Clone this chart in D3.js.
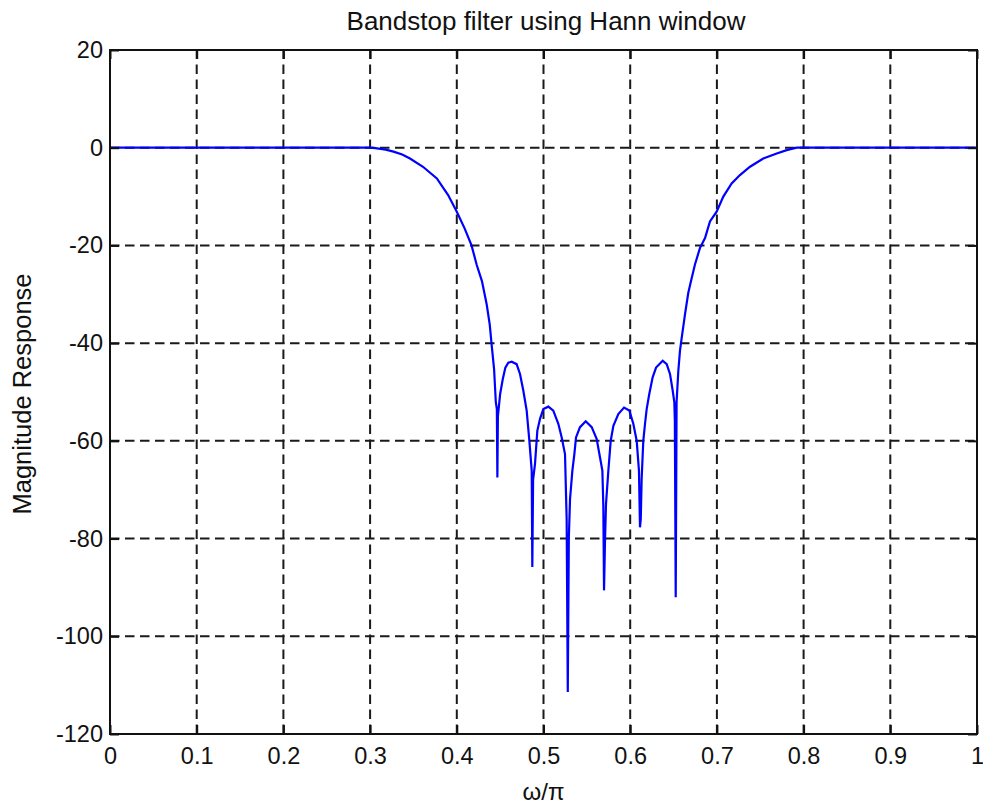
<!DOCTYPE html>
<html>
<head>
<meta charset="utf-8">
<script src="https://cdn.jsdelivr.net/npm/d3@7"></script>
<style>
  html, body { margin: 0; padding: 0; background: #fff; }
  svg { display: block; font-family: "Liberation Sans", Arial, Helvetica, sans-serif; }
</style>
</head>
<body>
<svg id="chart" width="983" height="807"></svg>
<script>
// Normalised frequency (omega / pi) of each sample of the response
const freq = [
  0, 0.1, 0.2, 0.3, 0.306, 0.318, 0.327, 0.337, 0.346, 0.361, 0.377, 0.390,
  0.400, 0.409, 0.417, 0.423, 0.429, 0.4345, 0.438, 0.440, 0.443, 0.445,
  0.4462, 0.4468, 0.4474, 0.450, 0.453, 0.456, 0.4594, 0.4633, 0.469, 0.4729,
  0.4767, 0.4806, 0.4837, 0.4864, 0.4871, 0.4880, 0.4902, 0.4929, 0.496, 0.4998,
  0.5056, 0.5113, 0.5171, 0.521, 0.5248, 0.5267, 0.5280, 0.5292, 0.5306, 0.5333,
  0.5356, 0.5375, 0.5421, 0.5487, 0.5556, 0.5613, 0.5652, 0.5679, 0.569, 0.5698,
  0.5710, 0.5721, 0.5748, 0.5775, 0.5806, 0.5863, 0.5929, 0.599, 0.6036, 0.6075,
  0.6101, 0.6113, 0.6122, 0.6132, 0.6151, 0.6171, 0.619, 0.622, 0.6259, 0.6298,
  0.6375, 0.6421, 0.6459, 0.649, 0.6509, 0.6515, 0.6525, 0.6535, 0.6555, 0.6574,
  0.6594, 0.6632, 0.667, 0.6709, 0.6747, 0.6805, 0.6863, 0.692, 0.6997, 0.7074,
  0.717, 0.7266, 0.7382, 0.7535, 0.769, 0.7805, 0.792, 0.8, 0.9, 1.0
];

// Magnitude response in dB at each frequency above
const magnitude = [
  0, 0, 0, 0, -0.1, -0.4, -0.8, -1.4, -2.2, -3.9, -6.3, -9.7,
  -13.1, -16.5, -20, -24, -27.3, -32.1, -36.2, -40, -45.3, -52.1,
  -53.5, -67.5, -55, -50.4, -47.4, -45.0, -44.0, -43.8, -44.3, -46.3,
  -49.7, -53.8, -60, -66.1, -85.8, -68, -64.7, -57.9, -55.5, -53.5,
  -53.0, -53.8, -56.5, -59.3, -62.7, -76.0, -111.4, -80, -71.9, -66.1,
  -62.7, -59.3, -57.2, -56.0, -57.2, -59.6, -63.4, -66.1, -73.2, -90.6,
  -80, -72.9, -66.1, -60, -56.9, -54.5, -53.2, -53.8, -56.5, -60,
  -66.1, -77.7, -76, -67.8, -60, -56.5, -53.5, -50.4, -47.0, -45.0,
  -43.6, -44.3, -46.3, -49.7, -52.1, -56, -92.0, -52.1, -45.7, -41.6,
  -38.9, -34.1, -29.7, -26.7, -23.9, -20.5, -18.5, -15.1, -13.1, -10.0,
  -7.3, -5.6, -3.9, -2.2, -1.2, -0.5, 0, 0, 0, 0
];

// Tick values and their labels for both axes
const xTicks = [0, 0.1, 0.2, 0.3, 0.4, 0.5, 0.6, 0.7, 0.8, 0.9, 1];
const xTickLabels = ["0", "0.1", "0.2", "0.3", "0.4", "0.5", "0.6", "0.7", "0.8", "0.9", "1"];
const yTicks = [-120, -100, -80, -60, -40, -20, 0, 20];
const yTickLabels = ["-120", "-100", "-80", "-60", "-40", "-20", "0", "20"];

const titleText = "Bandstop filter using Hann window";
const xLabelText = "\u03c9/\u03c0";
const yLabelText = "Magnitude Response";

const svg = d3.select("#chart");
const plotLeft = 110, plotRight = 977, plotTop = 50, plotBottom = 734;

const x = d3.scaleLinear().domain([0, 1]).range([plotLeft, plotRight]);
const y = d3.scaleLinear().domain([-120, 20]).range([plotBottom, plotTop]);

// Dashed grid at the interior ticks
const grid = svg.append("g").attr("stroke", "#1a1a1a").attr("stroke-width", 2)
  .attr("stroke-dasharray", "9.5,5.5");
grid.selectAll("line.vx")
  .data(xTicks.filter(d => d > 0 && d < 1))
  .join("line")
  .attr("class", "vx")
  .attr("x1", d => x(d)).attr("x2", d => x(d))
  .attr("y1", plotBottom).attr("y2", plotTop);
grid.selectAll("line.hy")
  .data(yTicks.filter(d => d > -120 && d < 20))
  .join("line")
  .attr("class", "hy")
  .attr("x1", plotLeft).attr("x2", plotRight)
  .attr("y1", d => y(d)).attr("y2", d => y(d));

// Response curve
const pts = freq.map((f, i) => [f, magnitude[i]]);
const line = d3.line().x(d => x(d[0])).y(d => y(d[1]));
svg.append("path")
  .datum(pts)
  .attr("d", line)
  .attr("fill", "none")
  .attr("stroke", "#0000ff")
  .attr("stroke-width", 2.2)
  .attr("stroke-linejoin", "miter");

// Axes with inward ticks on all four sides
const xFmt = d => xTickLabels[xTicks.indexOf(d)];
const yFmt = d => yTickLabels[yTicks.indexOf(d)];
const styleAxis = g => {
  g.select(".domain").remove();
  g.selectAll(".tick line").attr("stroke", "#111").attr("stroke-width", 2);
  g.selectAll(".tick text").attr("fill", "#111").attr("font-size", 23.5)
    .attr("font-family", "'Liberation Sans', Arial, Helvetica, sans-serif");
};

svg.append("g")
  .attr("transform", `translate(0,${plotBottom})`)
  .call(d3.axisBottom(x).tickValues(xTicks).tickFormat(xFmt).tickSizeInner(-9).tickSizeOuter(0).tickPadding(13))
  .call(styleAxis);
svg.append("g")
  .attr("transform", `translate(0,${plotTop})`)
  .call(d3.axisTop(x).tickValues(xTicks).tickFormat("").tickSizeInner(-9).tickSizeOuter(0))
  .call(styleAxis);
svg.append("g")
  .attr("transform", `translate(${plotLeft},0)`)
  .call(d3.axisLeft(y).tickValues(yTicks).tickFormat(yFmt).tickSizeInner(-9).tickSizeOuter(0).tickPadding(7))
  .call(styleAxis);
svg.append("g")
  .attr("transform", `translate(${plotRight},0)`)
  .call(d3.axisRight(y).tickValues(yTicks).tickFormat("").tickSizeInner(-9).tickSizeOuter(0))
  .call(styleAxis);

// Plot frame
svg.append("rect")
  .attr("x", plotLeft).attr("y", plotTop)
  .attr("width", plotRight - plotLeft).attr("height", plotBottom - plotTop)
  .attr("fill", "none").attr("stroke", "#111").attr("stroke-width", 2);

// Title and axis labels
svg.append("text")
  .attr("x", 546).attr("y", 30)
  .attr("text-anchor", "middle")
  .attr("font-size", 26).attr("fill", "#111")
  .text(titleText);
svg.append("text")
  .attr("x", (plotLeft + plotRight) / 2).attr("y", 800)
  .attr("text-anchor", "middle")
  .attr("font-size", 24).attr("fill", "#111")
  .text(xLabelText);
svg.append("text")
  .attr("transform", `translate(31,${(plotTop + plotBottom) / 2 + 2}) rotate(-90)`)
  .attr("text-anchor", "middle")
  .attr("font-size", 25.5).attr("fill", "#111")
  .text(yLabelText);
</script>
</body>
</html>
